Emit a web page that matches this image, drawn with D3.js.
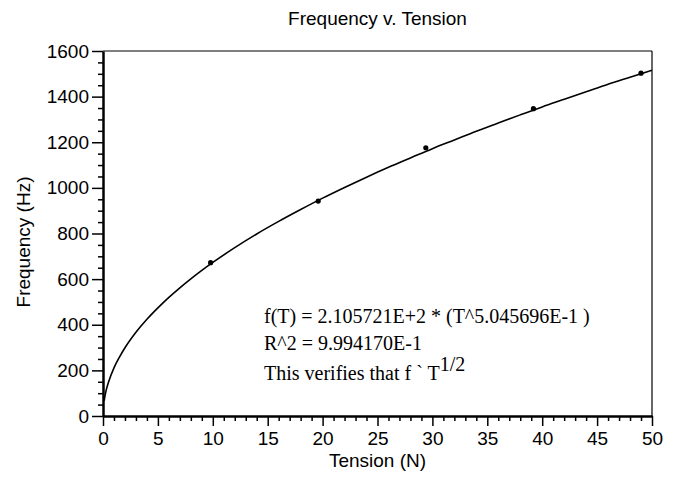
<!DOCTYPE html>
<html><head><meta charset="utf-8">
<script src="https://cdn.jsdelivr.net/npm/d3@7"></script>
<style>
html,body{margin:0;padding:0;background:#fff;}
svg{display:block;}
</style></head>
<body>
<script>
// ---- data ----
const title = "Frequency v. Tension";
const xLabel = "Tension (N)";
const yLabel = "Frequency (Hz)";
const xTicks = [0,5,10,15,20,25,30,35,40,45,50];
const yTicks = [0,200,400,600,800,1000,1200,1400,1600];
// fitted curve
const curveT = [0.1,0.25,0.5,1,1.5,2,3,4,5,6,7,8,9,10,12,14,16,18,20,22,24,26,28,30,32,34,36,38,40,42,44,46,48,50];
const curveF = [66,105,148,211,258,299,367,424,474,520,562,601,638,673,738,798,853,905,955,1002,1047,1090,1131,1172,1210,1248,1284,1320,1355,1388,1421,1454,1485,1516];
// measured points
const pointT = [9.8,19.6,29.4,39.2,49];
const pointF = [672,942,1176,1347,1503];
const noteLines = ["f(T) = 2.105721E+2 * (T^5.045696E-1 )", "R^2 = 9.994170E-1"];
const noteLast = "This verifies that f ` T";
const noteSup = "1/2";

// ---- chart ----
const W = 676, H = 481;
const L = 103, R = 652, T = 51, B = 416;
const sans = "'Liberation Sans', Arial, sans-serif";
const serif = "'Liberation Serif', 'Times New Roman', serif";
const fs = 19;
const fsSerif = 20;

const svg = d3.select("body").append("svg").attr("width", W).attr("height", H);
const x = d3.scaleLinear().domain([0,50]).range([L,R]);
const y = d3.scaleLinear().domain([0,1600]).range([B,T]);

// frame top/right
svg.append("line").attr("x1",L).attr("x2",R).attr("y1",T).attr("y2",T).attr("stroke","#000").attr("stroke-width",1.2);
svg.append("line").attr("x1",R).attr("x2",R).attr("y1",T).attr("y2",B).attr("stroke","#000").attr("stroke-width",1.2);

// minor ticks
const xMinor = d3.range(0,51,1).filter(v => v % 5 !== 0);
const yMinor = d3.range(0,1601,50).filter(v => v % 200 !== 0);
svg.append("g").attr("transform",`translate(0,${B})`)
  .call(d3.axisBottom(x).tickValues(xMinor).tickSize(5).tickFormat(""))
  .call(g => g.select(".domain").remove())
  .selectAll("line").attr("stroke-width",1.5);
svg.append("g").attr("transform",`translate(${L},0)`)
  .call(d3.axisLeft(y).tickValues(yMinor).tickSize(5).tickFormat(""))
  .call(g => g.select(".domain").remove())
  .selectAll("line").attr("stroke-width",1.5);

// major axes
const gx = svg.append("g").attr("transform",`translate(0,${B})`)
  .call(d3.axisBottom(x).tickValues(xTicks).tickSize(10).tickSizeOuter(0).tickPadding(6).tickFormat(d3.format("d")));
gx.select(".domain").attr("stroke-width",2.5);
gx.selectAll(".tick line").attr("stroke-width",1.5);
gx.selectAll("text").attr("font-family",sans).attr("font-size",fs).attr("fill","#000");

const gy = svg.append("g").attr("transform",`translate(${L},0)`)
  .call(d3.axisLeft(y).tickValues(yTicks).tickSize(11).tickSizeOuter(0).tickPadding(3).tickFormat(d3.format("d")));
gy.select(".domain").attr("stroke-width",2.5);
gy.selectAll(".tick line").attr("stroke-width",1.5);
gy.selectAll("text").attr("font-family",sans).attr("font-size",fs).attr("fill","#000");

// curve
const curve = curveT.map((t,i) => [t, curveF[i]]);
svg.append("path").datum(curve)
  .attr("d", d3.line().x(d => x(d[0])).y(d => y(d[1])).curve(d3.curveMonotoneX))
  .attr("fill","none").attr("stroke","#000").attr("stroke-width",1.6);

// points
svg.append("g").selectAll("circle").data(pointT.map((t,i)=>[t,pointF[i]])).join("circle")
  .attr("cx", d => x(d[0])).attr("cy", d => y(d[1])).attr("r", 2.6).attr("fill","#000");

// titles
svg.append("text").attr("x",(L+R)/2).attr("y",25).attr("text-anchor","middle")
  .attr("font-family",sans).attr("font-size",fs).text(title);
svg.append("text").attr("x",(L+R)/2).attr("y",467).attr("text-anchor","middle")
  .attr("font-family",sans).attr("font-size",fs).text(xLabel);
svg.append("text").attr("transform","translate(30,242) rotate(-90)").attr("text-anchor","middle")
  .attr("font-family",sans).attr("font-size",fs).text(yLabel);

// annotation
const nx = 264;
const nys = [323, 350];
noteLines.forEach((s,i) => {
  svg.append("text").attr("x",nx).attr("y",nys[i]).attr("font-family",serif).attr("font-size",fsSerif).text(s);
});
const last = svg.append("text").attr("x",nx).attr("y",380).attr("font-family",serif).attr("font-size",fsSerif);
last.append("tspan").text(noteLast);
last.append("tspan").attr("dy",-9).text(noteSup);
</script>
</body></html>
